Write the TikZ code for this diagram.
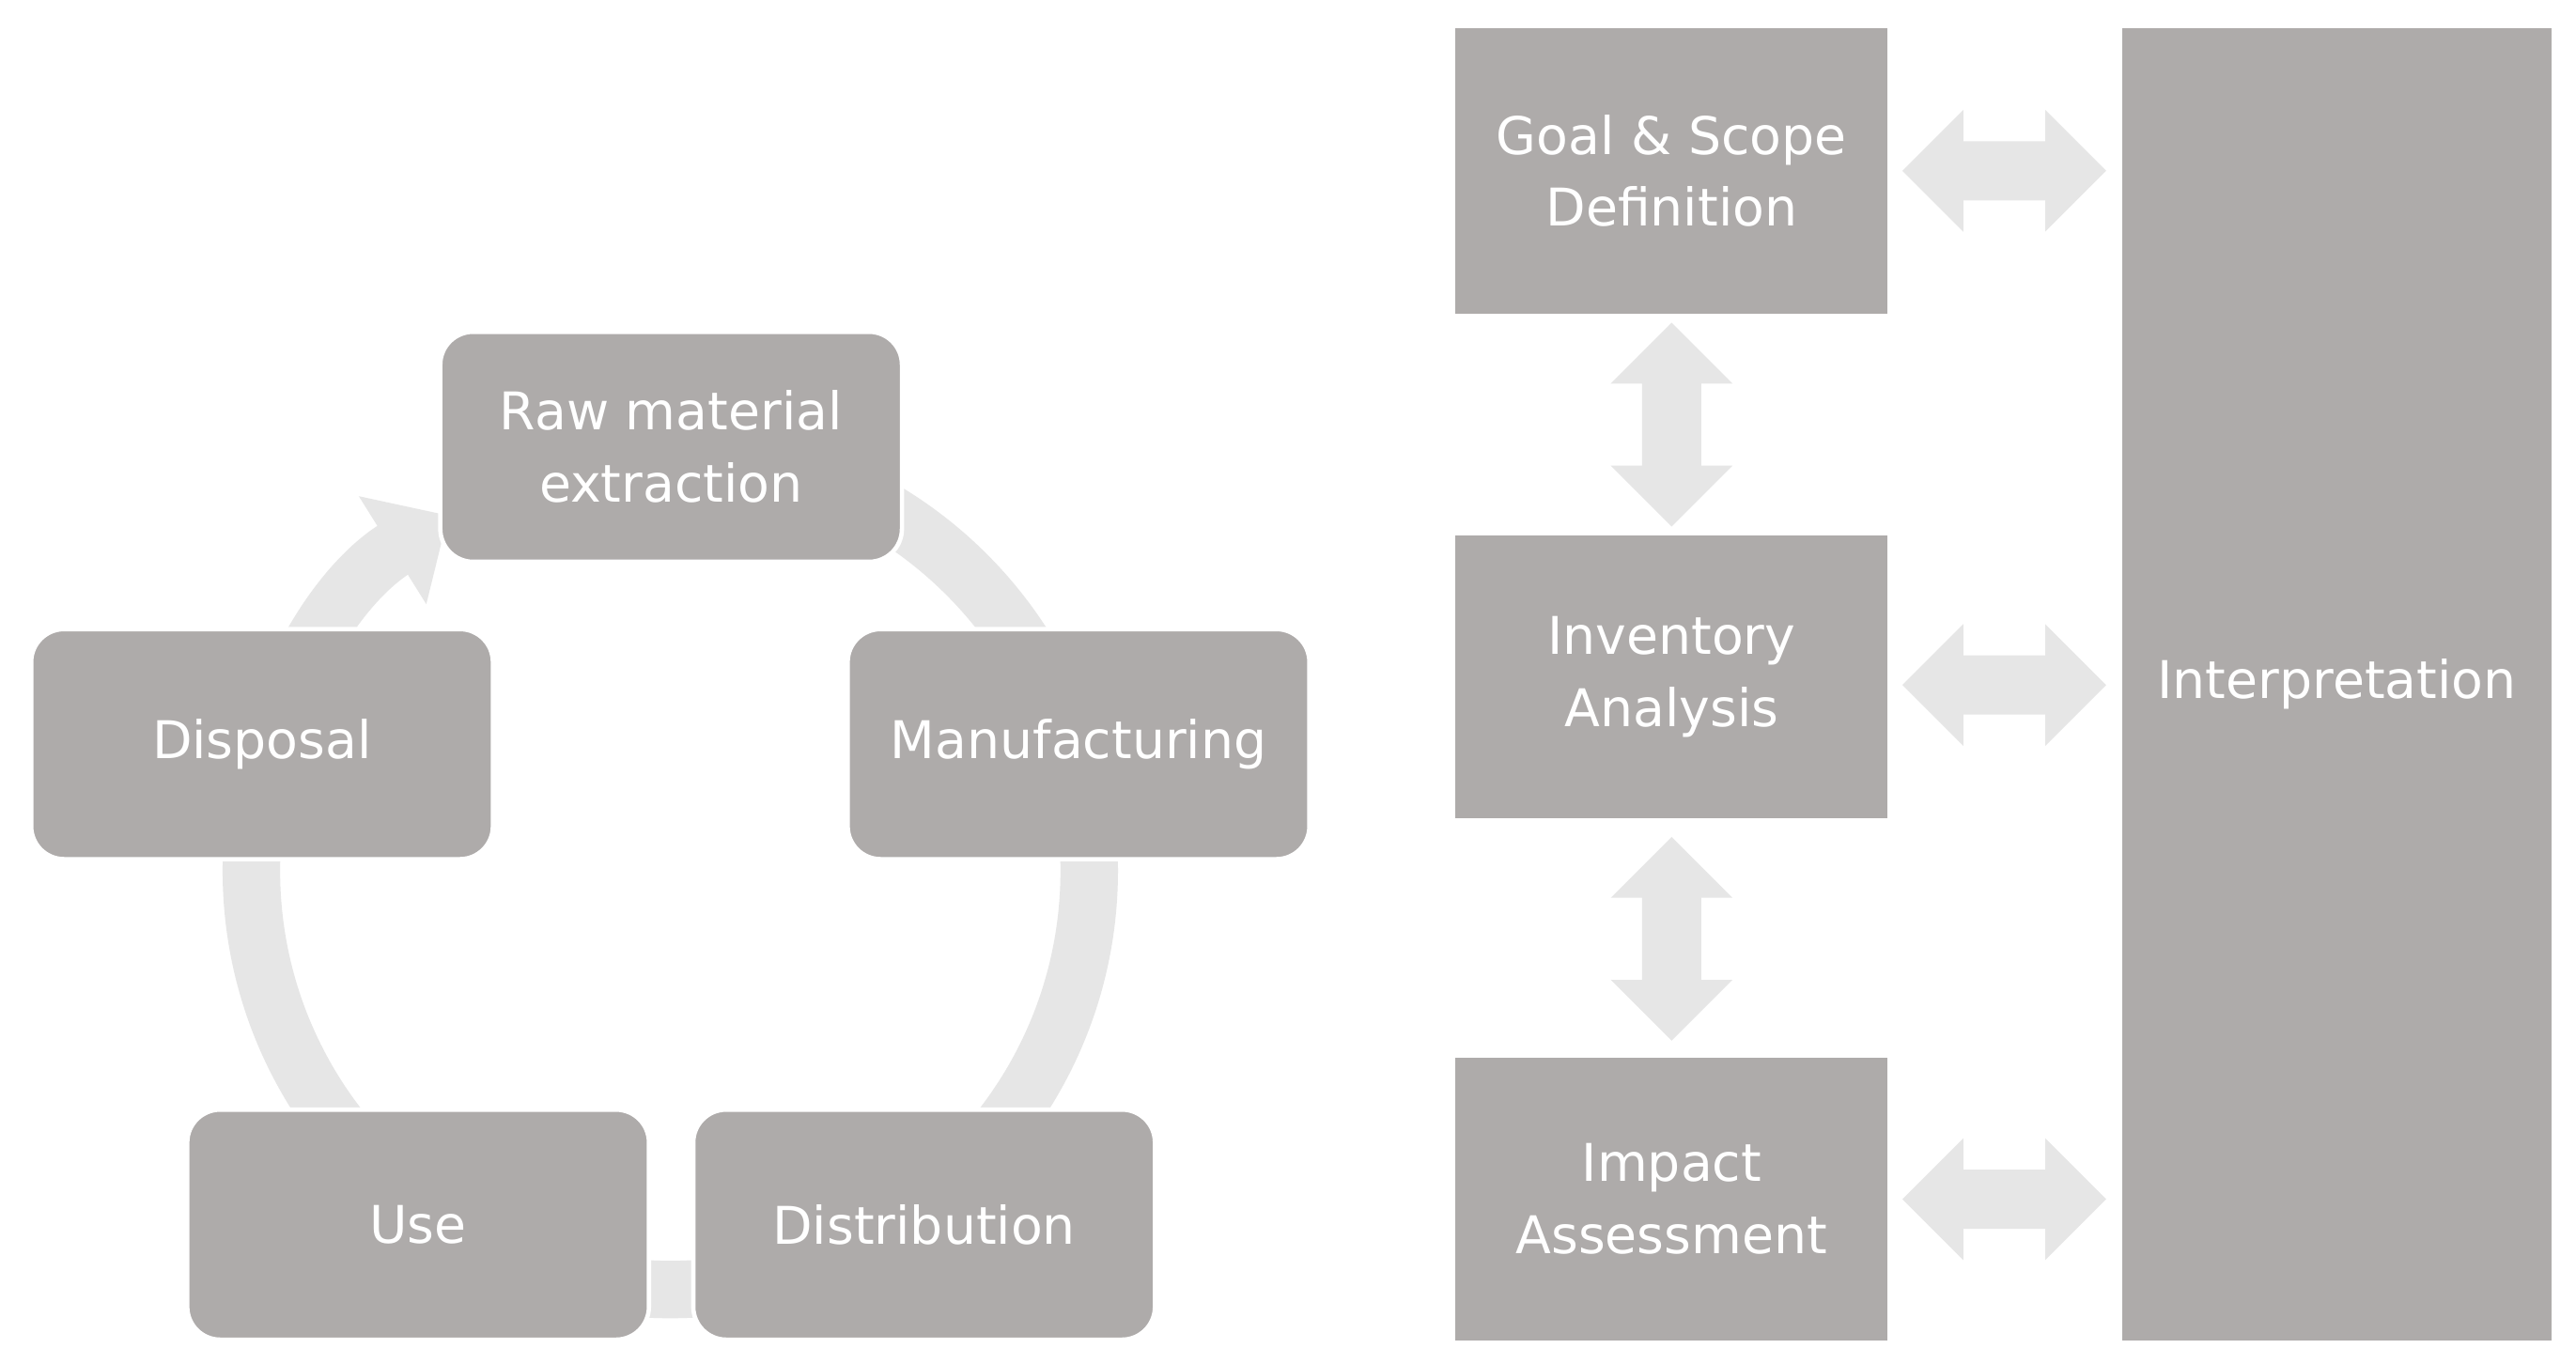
\documentclass[tikz,border=0pt]{standalone}
\usepackage{fontspec}
\setmainfont{DejaVu Sans}
\usetikzlibrary{arrows.meta}
\begin{document}
\begin{tikzpicture}[x=0.02cm,y=0.02cm,
  box/.style={fill=boxgray,draw=white,line width=1.5pt,rounded corners=0.4cm,text=white,align=center,font=\fontsize{18}{25}\selectfont,inner sep=0pt},
  sq/.style={fill=boxgray,text=white,align=center,font=\fontsize{18}{25}\selectfont,inner sep=0pt},
  arr/.style={fill=ringgray}]
\definecolor{boxgray}{HTML}{AEABAA}
\definecolor{ringgray}{HTML}{E6E6E6}
\useasboundingbox[fill=white] (0,0) rectangle (1568,830);
\newcommand\hdarrow[3]{\fill[arr,shift={(#1,#2)},rotate=#3] (-62,0)--(-25,37)--(-25,18)--(25,18)--(25,37)--(62,0)--(25,-37)--(25,-18)--(-25,-18)--(-25,-37)--cycle;}
% ring
\coordinate (c) at (408,300);
\draw[ringgray,line width=0.7cm,-{Triangle[length=0.8cm,width=1.5cm]}] (408,555) arc[start angle=90,end angle=-238,radius=255];
% cycle nodes
\node[box,minimum width=281*0.02cm,minimum height=140*0.02cm] (raw) at (408.5,558) {Raw material\\extraction};
\node[box,minimum width=281*0.02cm,minimum height=140*0.02cm] (man) at (656.5,377) {Manufacturing};
\node[box,minimum width=281*0.02cm,minimum height=140*0.02cm] (dis) at (562.5,84.5) {Distribution};
\node[box,minimum width=281*0.02cm,minimum height=140*0.02cm] (use) at (254.5,84.5) {Use};
\node[box,minimum width=281*0.02cm,minimum height=140*0.02cm] (dsp) at (159.5,377) {Disposal};
% LCA framework
\node[sq,minimum width=263*0.02cm,minimum height=174*0.02cm] (goal) at (1017.5,726) {Goal \& Scope\\Definition};
\node[sq,minimum width=263*0.02cm,minimum height=172*0.02cm] (inv) at (1017.5,418) {Inventory\\Analysis};
\node[sq,minimum width=263*0.02cm,minimum height=172*0.02cm] (imp) at (1017.5,100) {Impact\\Assessment};
\node[sq,minimum width=261*0.02cm,minimum height=799*0.02cm] (int) at (1422.5,413.5) {Interpretation};
\hdarrow{1220}{726}{0}
\hdarrow{1220}{413}{0}
\hdarrow{1220}{100}{0}
\hdarrow{1017.5}{571.5}{90}
\hdarrow{1017.5}{258.5}{90}
\end{tikzpicture}
\end{document}
